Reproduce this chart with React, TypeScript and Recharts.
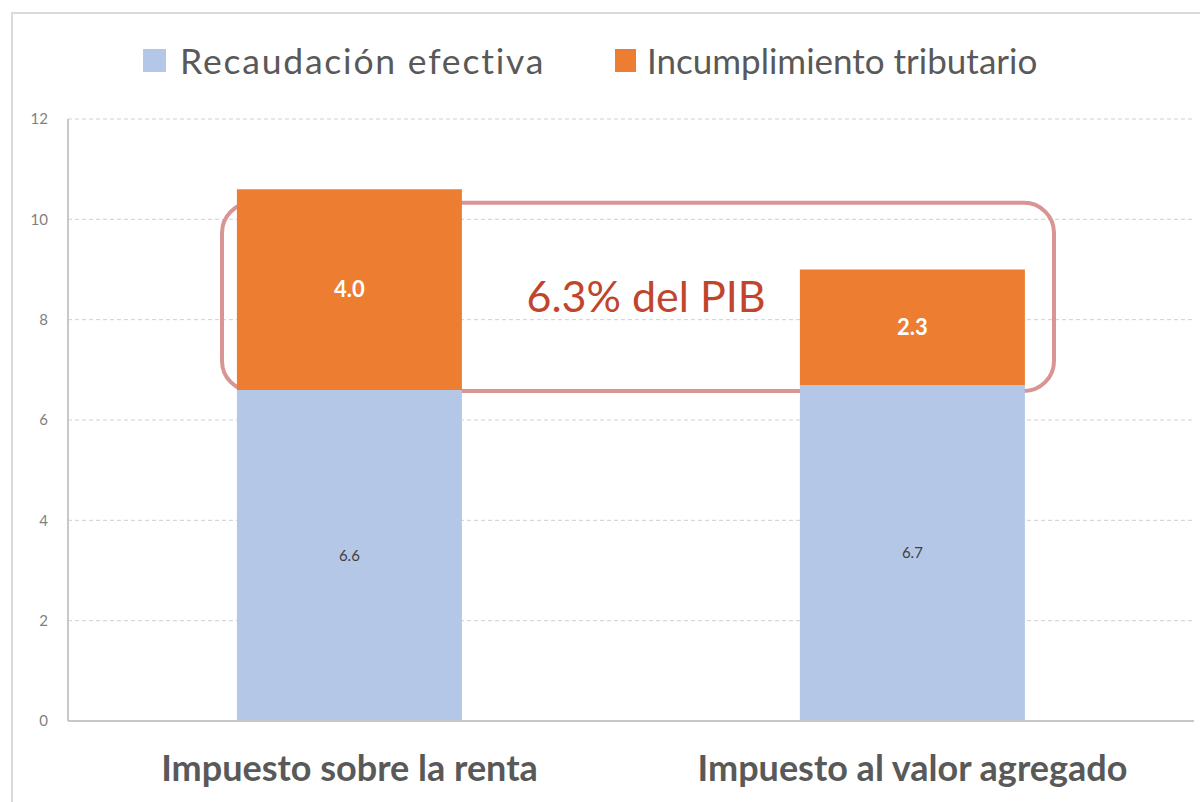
import React from 'react';
import { BarChart, Bar, XAxis, YAxis, CartesianGrid, Legend, LabelList, ReferenceArea } from 'recharts';

const categories = ['Impuesto sobre la renta', 'Impuesto al valor agregado'];
const recaudacion = [6.6, 6.7];
const incumplimiento = [4.0, 2.3];
const yTicks = [0, 2, 4, 6, 8, 10, 12];
const seriesNames = ['Recaudación efectiva', 'Incumplimiento tributario'];
const annotationText = '6.3% del PIB';

const data = categories.map((c, i) => ({ name: c, rec: recaudacion[i], inc: incumplimiento[i] }));

const BLUE = '#b4c7e7';
const ORANGE = '#ed7d31';
const FONT = 'Lato, "Open Sans", sans-serif';

const LegendContent = () => (
  <div style={{ position: 'relative', height: 41, fontFamily: FONT, fontSize: 35.5, color: '#595959', lineHeight: '41px' }}>
    <span style={{ position: 'absolute', left: 143, top: 9, width: 23, height: 23, background: BLUE }} />
    <span style={{ position: 'absolute', left: 180, top: 0, letterSpacing: 1.8, whiteSpace: 'nowrap' }}>{seriesNames[0]}</span>
    <span style={{ position: 'absolute', left: 615, top: 9, width: 21, height: 23, background: ORANGE }} />
    <span style={{ position: 'absolute', left: 647, top: 0, fontSize: 35, whiteSpace: 'nowrap' }}>{seriesNames[1]}</span>
  </div>
);

const AnnotationShape = (props: any) => {
  const { x, y, width, height } = props;
  const left = x + 154;
  const w = width - 294;
  return (
    <g>
      <rect x={left} y={y} width={w} height={height} rx={30} ry={30} fill="none" stroke="#d99594" strokeWidth={4} />
      <text x={left + w / 2 + 8} y={y + height / 2 + 15} textAnchor="middle" fontFamily={FONT} fontSize={43} fill="#c0452c">
        {annotationText}
      </text>
    </g>
  );
};

export default function App() {
  return (
    <div style={{ position: 'absolute', left: 0, top: 0, width: 1200, height: 802, background: '#fff', overflow: 'hidden' }}>
      <div style={{ position: 'absolute', left: 11, top: 12, width: 1220, height: 820, border: '2px solid #d9d9d9' }} />
      <div style={{ position: 'absolute', left: 0, top: 0 }}>
        <BarChart width={1200} height={802} data={data} margin={{ top: 78, right: 6, bottom: 21, left: 18 }} barCategoryGap="30%">
          <CartesianGrid vertical={false} stroke="#d0d0d0" strokeDasharray="4 3" />
          <XAxis
            dataKey="name"
            axisLine={{ stroke: '#c8c8c8', strokeWidth: 2 }}
            tickLine={false}
            height={60}
            tick={{ fontFamily: FONT, fontSize: 36, fontWeight: 700, fill: '#595959' }}
            tickMargin={28}
          />
          <YAxis
            domain={[0, 12]}
            ticks={yTicks}
            width={50}
            axisLine={{ stroke: '#c8c8c8', strokeWidth: 2 }}
            tickLine={false}
            tickSize={0}
            tickMargin={20}
            tick={{ fontFamily: FONT, fontSize: 15, fill: '#7f7f7f' }}
          />
          <Legend verticalAlign="top" content={<LegendContent />} wrapperStyle={{ top: 40, left: 0, width: 1200, height: 41 }} />
          <Bar dataKey="rec" stackId="a" fill={BLUE} isAnimationActive={false} name={seriesNames[0]}>
            <LabelList dataKey="rec" position="center" formatter={(v: any) => Number(v).toFixed(1)} style={{ fontFamily: FONT, fontSize: 15, fill: '#404040' }} />
          </Bar>
          <Bar dataKey="inc" stackId="a" fill={ORANGE} isAnimationActive={false} name={seriesNames[1]}>
            <LabelList dataKey="inc" position="center" formatter={(v: any) => Number(v).toFixed(1)} style={{ fontFamily: FONT, fontSize: 22, fontWeight: 700, fill: '#ffffff' }} />
          </Bar>
          <ReferenceArea y1={6.58} y2={10.33} shape={AnnotationShape} ifOverflow="visible" />
        </BarChart>
      </div>
    </div>
  );
}
